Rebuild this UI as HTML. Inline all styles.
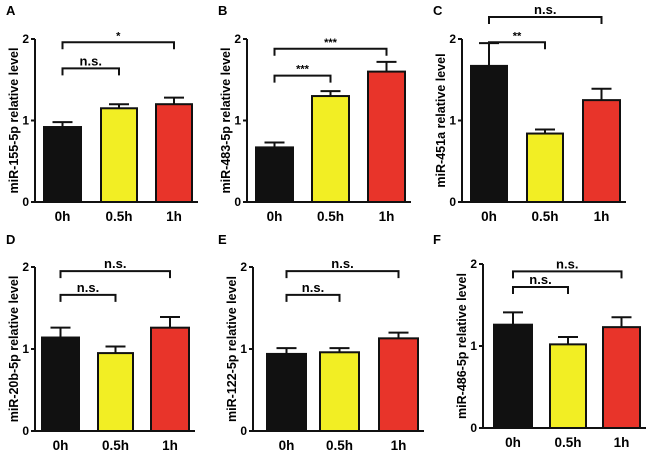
<!DOCTYPE html>
<html><head><meta charset="utf-8"><style>
body{margin:0;background:#fff;font-family:"Liberation Sans",Arial,sans-serif}
svg{display:block}
text{font-family:"Liberation Sans",Arial,sans-serif;font-weight:bold}
</style></head><body>
<svg id="c" width="650" height="454"></svg>
<script>
const panelLetters = ["A","B","C","D","E","F"];
const yTitles = ["miR-155-5p relative level","miR-483-5p relative level","miR-451a relative level","miR-20b-5p relative level","miR-122-5p relative level","miR-486-5p relative level"];
const categories = ["0h","0.5h","1h"];
const yTicks = [0,1,2];
const meanA=[0.92,1.15,1.20], errA=[0.06,0.05,0.08];
const meanB=[0.67,1.30,1.60], errB=[0.06,0.06,0.12];
const meanC=[1.67,0.84,1.25], errC=[0.28,0.05,0.14];
const meanD=[1.14,0.95,1.26], errD=[0.12,0.08,0.13];
const meanE=[0.94,0.96,1.13], errE=[0.07,0.05,0.07];
const meanF=[1.26,1.02,1.23], errF=[0.15,0.09,0.12];
const sigShort=["n.s.","***","**","n.s.","n.s.","n.s."];
const sigLong=["*","***","n.s.","n.s.","n.s.","n.s."];
const bracketShortY=[1.64,1.55,1.96,1.66,1.66,1.72];
const bracketLongY=[1.96,1.88,2.27,1.95,1.95,1.91];
const means=[meanA,meanB,meanC,meanD,meanE,meanF];
const errs=[errA,errB,errC,errD,errE,errF];
const colors=["#111","#f2ee24","#e8342a"];
// layout (not data)
const L=[
 {ax:35,bx:[44,101,156],bw:[37,36,36],y0:202,y2:39,lx:6,ly:15},
 {ax:247,bx:[256,312,368],bw:[37,37,37],y0:202,y2:39,lx:218,ly:15},
 {ax:462,bx:[471,527,583],bw:[36,36,37],y0:202,y2:39,lx:433,ly:15},
 {ax:35,bx:[42,98,151],bw:[37,35,38],y0:431,y2:267,lx:6,ly:244},
 {ax:253,bx:[267,320,379],bw:[39,39,39],y0:431,y2:267,lx:218,ly:244},
 {ax:483,bx:[494,550,603],bw:[38,36,37],y0:428,y2:264,lx:433,ly:244}
];
const svg=document.getElementById('c');
const NS='http://www.w3.org/2000/svg';
function mk(t,a,txt){const e=document.createElementNS(NS,t);for(const k in a)e.setAttribute(k,a[k]);if(txt!==undefined)e.textContent=txt;svg.appendChild(e);return e;}
L.forEach((p,i)=>{
 const ys=v=>p.y0+(p.y2-p.y0)*v/2;
 const xr=p.bx[2]+p.bw[2]+6;
 let e=mk('text',{x:p.lx,y:p.ly,'font-size':13,'font-weight':'normal'},panelLetters[i]);
 
 
 e=mk('text',{x:0,y:0,'font-size':12.5,'text-anchor':'middle',transform:`translate(${p.ax-17},${(p.y0+p.y2)/2}) rotate(-90)`},yTitles[i]);
 
 
 e=mk('line',{x1:p.ax,y1:ys(2),x2:p.ax,y2:p.y0,stroke:'#111','stroke-width':2});
 
 
 e=mk('line',{x1:p.ax,y1:p.y0,x2:xr,y2:p.y0,stroke:'#111','stroke-width':2});
 
 
 yTicks.forEach(t=>{
  e=mk('line',{x1:p.ax-4,y1:ys(t),x2:p.ax,y2:ys(t),stroke:'#111','stroke-width':2});
  
  
  e=mk('text',{x:p.ax-6,y:ys(t)+4,'font-size':12,'text-anchor':'end'},String(t));
  
  
 });
 categories.forEach((c,j)=>{
  const m=means[i][j],er=errs[i][j],bw=p.bw[j],cx=p.bx[j]+bw/2;
  e=mk('line',{x1:cx,y1:ys(m),x2:cx,y2:ys(m+er),stroke:'#111','stroke-width':2});
  
  
  e=mk('line',{x1:cx-10,y1:ys(m+er),x2:cx+10,y2:ys(m+er),stroke:'#111','stroke-width':2});
  
  
  e=mk('rect',{x:p.bx[j],y:ys(m),width:bw,height:p.y0-ys(m),fill:colors[j],stroke:'#111','stroke-width':2});
  
  
  e=mk('text',{x:cx,y:p.y0+19,'font-size':13.5,'text-anchor':'middle'},c);
  
  
 });
 const c0=p.bx[0]+p.bw[0]/2,c1=p.bx[1]+p.bw[1]/2,c2=p.bx[2]+p.bw[2]/2;
 [[c1,bracketShortY[i],sigShort[i],'short'],[c2,bracketLongY[i],sigLong[i],'long']].forEach(([cx,by,lab,nm])=>{
  const yy=ys(by);
  e=mk('path',{d:`M${c0},${yy+7}V${yy}H${cx}V${yy+7}`,fill:'none',stroke:'#111','stroke-width':2});
  
  
  e=mk('text',{x:(c0+cx)/2,y:yy-3,'font-size':lab.includes('*')?11:13,'text-anchor':'middle','font-weight':lab.includes('*')?'normal':'bold'},lab);
  
  
 });
});
</script>
</body></html>
